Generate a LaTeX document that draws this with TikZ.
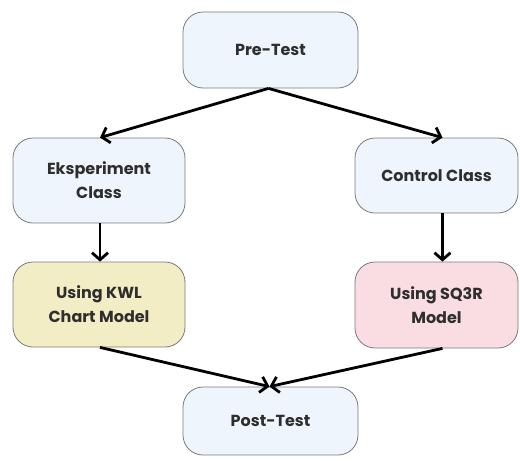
\documentclass[tikz,border=0pt]{standalone}
\usepackage{fontspec}
\setmainfont{Poppins}
\usetikzlibrary{arrows.meta}
\definecolor{boxblue}{HTML}{EEF5FC}
\definecolor{boxyellow}{HTML}{F3EDC6}
\definecolor{boxpink}{HTML}{F9DDE2}
\definecolor{edgegray}{HTML}{7A7A7A}
\definecolor{txt}{HTML}{2E2E2E}
\tikzset{
  box/.style={draw=edgegray, line width=0.8pt, rounded corners=20pt, align=center,
    font=\fontsize{16}{24}\selectfont\bfseries, text=txt, inner sep=0pt},
  conn/.style={line width=2.8pt, -{Straight Barb[length=7pt,width=16pt,line width=2.8pt]}}
}
\begin{document}
\begin{tikzpicture}[x=1pt,y=-1pt]
\useasboundingbox (0,0) rectangle (520,461);
\node[box, fill=boxblue, minimum width=175pt, minimum height=76pt] (pre) at (270.5,50) {Pre-Test};
\node[box, fill=boxblue, minimum width=172pt, minimum height=85pt] (eks) at (99,180.5) {Eksperiment\\Class};
\node[box, fill=boxblue, minimum width=163pt, minimum height=75pt] (ctl) at (436.5,175.5) {Control Class};
\node[box, fill=boxyellow, minimum width=172pt, minimum height=85pt] (kwl) at (99,304.5) {Using KWL\\Chart Model};
\node[box, fill=boxpink, minimum width=163pt, minimum height=86pt] (sq) at (436.5,305) {Using SQ3R\\Model};
\node[box, fill=boxblue, minimum width=175pt, minimum height=68pt] (post) at (270.5,421) {Post-Test};
\draw[conn] ([xshift=-2pt]pre.south) -- ([xshift=1pt]eks.north);
\draw[conn] ([xshift=-2pt]pre.south) -- ([xshift=6pt]ctl.north);
\draw[conn] ([xshift=1pt]eks.south) -- ([xshift=1pt]kwl.north);
\draw[conn] ([xshift=6pt]ctl.south) -- ([xshift=6pt]sq.north);
\draw[conn] ([xshift=1pt]kwl.south) -- ([xshift=-1pt]post.north);
\draw[conn] ([xshift=6pt]sq.south) -- ([xshift=-1pt]post.north);
\end{tikzpicture}
\end{document}
